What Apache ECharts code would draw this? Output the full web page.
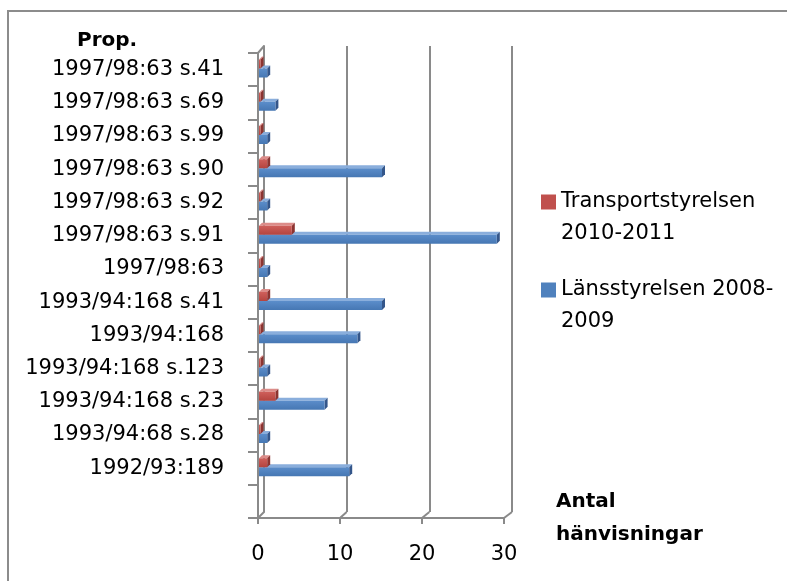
<!DOCTYPE html>
<html>
<head>
<meta charset="utf-8">
<script src="https://cdn.jsdelivr.net/npm/echarts@6/dist/echarts.min.js"></script>
<style>
  html, body { margin: 0; padding: 0; background: #fff; }
  #chart { width: 787px; height: 581px; }
</style>
</head>
<body>
<div id="chart"></div>
<script>
// top to bottom, last slot is empty in the original
const categories = [
  '1997/98:63 s.41', '1997/98:63 s.69', '1997/98:63 s.99', '1997/98:63 s.90',
  '1997/98:63 s.92', '1997/98:63 s.91', '1997/98:63', '1993/94:168 s.41',
  '1993/94:168', '1993/94:168 s.123', '1993/94:168 s.23', '1993/94:68 s.28',
  '1992/93:189', ''
];
const transport = [0, 0, 0, 1, 0, 4, 0, 1, 0, 0, 2, 0, 1, null];
const lans = [1, 2, 1, 15, 1, 29, 1, 15, 12, 1, 8, 1, 11, null];
const xTicks = [0, 10, 20, 30];

const FONT = 'DejaVu Sans';
const GRID_GRAY = '#8a8a8a';

const chart = echarts.init(document.getElementById('chart'), null, { renderer: 'canvas' });

// fake 3D bar: front face, lighter top face, darker end face
function bar3d(offTop, h, front, top, side) {
  return function (params, api) {
    const v = api.value(0);
    if (v == null || isNaN(v)) return null;
    const cat = api.value(1);
    const p0 = api.coord([0, cat]);
    const p1 = api.coord([v, cat]);
    const d = 3;
    const xs = p0[0] + 1;
    const xe = Math.max(p1[0] + 1, xs + 1.5);
    const yt = p0[1] + offTop;
    return {
      type: 'group',
      children: [
        { type: 'polygon', shape: { points: [[xs, yt], [xs + d, yt - d], [xe + d, yt - d], [xe, yt]] },
          style: { fill: top } },
        { type: 'polygon', shape: { points: [[xe, yt], [xe + d, yt - d], [xe + d, yt + h - d], [xe, yt + h]] },
          style: { fill: side } },
        { type: 'rect', shape: { x: xs, y: yt, width: xe - xs, height: h },
          style: { fill: new echarts.graphic.LinearGradient(0, 0, 0, 1, [
            { offset: 0, color: front[0] }, { offset: 1, color: front[1] }]) } }
      ]
    };
  };
}

chart.setOption({
  animation: false,
  title: {
    text: 'Prop.', left: 77, top: 31, padding: 0,
    textStyle: { fontFamily: FONT, fontSize: 20, fontWeight: 'bold', color: '#000' }
  },
  legend: {
    orient: 'vertical', left: 541, top: 154, itemGap: -8, padding: 0,
    itemWidth: 15, itemHeight: 15, icon: 'rect',
    data: ['Transportstyrelsen 2010-2011', 'Länsstyrelsen 2008-2009'],
    formatter: function (name) {
      return name === 'Transportstyrelsen 2010-2011'
        ? '\nTransportstyrelsen\n2010-2011' : '\nLänsstyrelsen 2008-\n2009';
    },
    textStyle: { fontFamily: FONT, fontSize: 21, lineHeight: 32, color: '#000' }
  },
  grid: [
    { left: 264, top: 46, width: 248, height: 466 },
    { left: 258, top: 53, width: 246, height: 465 }
  ],
  xAxis: [
    {
      gridIndex: 0, type: 'value', min: 0, max: 30, interval: 10,
      axisLine: { show: false }, axisTick: { show: false }, axisLabel: { show: false },
      splitLine: { show: true, lineStyle: { color: GRID_GRAY, width: 2 } }
    },
    {
      gridIndex: 1, type: 'value', min: 0, max: 30, interval: 10,
      axisLine: { show: true, lineStyle: { color: GRID_GRAY, width: 2 } },
      axisTick: { show: true, length: 6, lineStyle: { color: GRID_GRAY, width: 2 } },
      axisLabel: { fontFamily: FONT, fontSize: 21, color: '#000', margin: 26 },
      splitLine: { show: false },
      name: 'Antal\nhänvisningar', nameLocation: 'end', nameGap: 52,
      nameTextStyle: { fontFamily: FONT, fontSize: 20, fontWeight: 'bold', color: '#000',
        lineHeight: 33, align: 'left', verticalAlign: 'middle', padding: [10, 0, 0, 0] }
    }
  ],
  yAxis: [
    {
      gridIndex: 0, type: 'category', data: categories, inverse: true,
      axisLine: { show: true, lineStyle: { color: GRID_GRAY, width: 2 } },
      axisTick: { show: false }, axisLabel: { show: false }, splitLine: { show: false }
    },
    {
      gridIndex: 1, type: 'category', data: categories, inverse: true,
      axisLine: { show: true, lineStyle: { color: GRID_GRAY, width: 2 } },
      axisTick: { show: true, length: 10, lineStyle: { color: GRID_GRAY, width: 2 } },
      axisLabel: { fontFamily: FONT, fontSize: 21, color: '#000', margin: 34 },
      splitLine: { show: false }
    }
  ],
  series: [
    {
      name: 'Transportstyrelsen 2010-2011', type: 'custom', xAxisIndex: 1, yAxisIndex: 1, z: 3,
      itemStyle: { color: '#C0504D' },
      encode: { x: 0, y: 1 },
      data: transport.map((v, i) => [v, i]),
      renderItem: bar3d(-10, 9, ['#cf5f5b', '#b4443f'], '#dc8c89', '#8c3431')
    },
    {
      name: 'Länsstyrelsen 2008-2009', type: 'custom', xAxisIndex: 1, yAxisIndex: 1, z: 2,
      itemStyle: { color: '#4F81BD' },
      encode: { x: 0, y: 1 },
      data: lans.map((v, i) => [v, i]),
      renderItem: bar3d(-1, 9, ['#5b8dca', '#4677b3'], '#8aaedc', '#34568a')
    }
  ]
});

// floor diagonals joining front axis ticks to back wall lines, plus top-left corner and frame
const frontY = 518, backY = 512;
const extra = xTicks.map(function (t) {
  const fx = chart.convertToPixel({ xAxisIndex: 1 }, t);
  const bx = chart.convertToPixel({ xAxisIndex: 0 }, t);
  return { type: 'line', shape: { x1: fx, y1: frontY, x2: bx, y2: backY },
    style: { stroke: GRID_GRAY, lineWidth: 2 }, silent: true };
});
extra.push({ type: 'line', shape: { x1: 258, y1: 53, x2: 264, y2: 46 },
  style: { stroke: GRID_GRAY, lineWidth: 2 }, silent: true });
extra.push({ type: 'rect', shape: { x: 8, y: 11, width: 900, height: 700 },
  style: { fill: 'none', stroke: '#8c8c8c', lineWidth: 2 }, silent: true, z: -1 });
chart.setOption({ graphic: extra });
</script>
</body>
</html>
